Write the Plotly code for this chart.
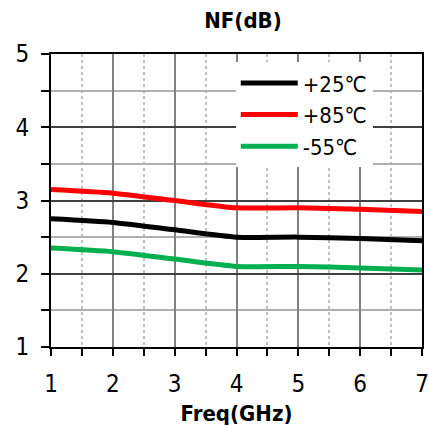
import plotly.graph_objects as go

freq = [1, 2, 3, 4, 5, 6, 7]
nf_25 = [2.75, 2.70, 2.60, 2.50, 2.50, 2.48, 2.45]
nf_85 = [3.15, 3.10, 3.00, 2.90, 2.90, 2.88, 2.85]
nf_m55 = [2.35, 2.30, 2.20, 2.10, 2.10, 2.08, 2.05]
names = ["+25℃", "+85℃", "-55℃"]
colors = ["#000000", "#ff0000", "#00b050"]

fig = go.Figure()
for ys, n, c in zip([nf_25, nf_85, nf_m55], names, colors):
    fig.add_trace(go.Scatter(x=freq, y=ys, name=n, mode="lines",
                             line=dict(color=c, width=5, shape="spline", smoothing=0.6)))

font = "DejaVu Sans Condensed, DejaVu Sans, sans-serif"
fig.update_layout(
    template="none",
    width=429, height=426,
    margin=dict(l=51, r=7, t=54, b=79),
    paper_bgcolor="white", plot_bgcolor="white",
    font=dict(family=font, color="black", size=24),
    title=dict(text="<b>NF(dB)</b>", x=243/429, xanchor="center", y=1-20/426, yanchor="middle",
               font=dict(size=22, family=font)),
    showlegend=True,
    legend=dict(x=0.498, y=0.972, xanchor="left", yanchor="top", bgcolor="white",
                font=dict(size=22, family=font), itemwidth=57, tracegroupgap=0,
                borderwidth=0),
    xaxis=dict(range=[1, 7], dtick=1, tick0=1, showline=True, mirror=True, linecolor="black", linewidth=2,
               ticks="outside", ticklen=7, tickcolor="black", tickwidth=1.5, automargin=False,
               ticklabelstandoff=7,
               showgrid=True, gridcolor="#808080", gridwidth=1.5, zeroline=False,
               title=dict(text="<b>Freq(GHz)</b>", font=dict(size=22, family=font), standoff=16),
               minor=dict(dtick=0.5, showgrid=True, gridcolor="#c0c0c0", griddash="dot", gridwidth=1.5,
                          ticks="outside", ticklen=7, tickcolor="black", tickwidth=1.5)),
    yaxis=dict(range=[1, 5], dtick=1, showline=True, mirror=True, linecolor="black", linewidth=2,
               ticks="outside", ticklen=8, tickcolor="black", tickwidth=1.5, automargin=False,
               ticksuffix=" ",
               showgrid=True, gridcolor="#404040", gridwidth=1.5, zeroline=False,
               minor=dict(dtick=0.5, showgrid=True, gridcolor="#b0b0b0", gridwidth=1.5,
                          ticks="outside", ticklen=8, tickcolor="black", tickwidth=1.5)),
)
fig.write_html("out.html")
